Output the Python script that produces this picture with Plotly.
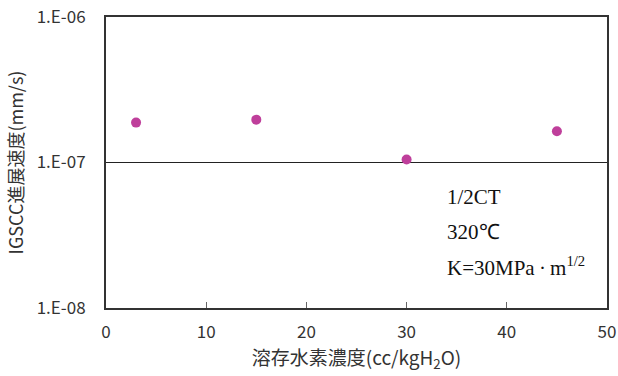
import plotly.graph_objects as go

h2_conc = [3, 15, 30, 45]
growth_rate = [1.88e-7, 1.97e-7, 1.05e-7, 1.64e-7]
y_tick_vals = [1e-8, 1e-7, 1e-6]
y_tick_text = ["1.E-08", "1.E-07", "1.E-06"]
x_tick_vals = [0, 10, 20, 30, 40, 50]
notes = ["1/2CT", "320℃", "K=30MPa\u2009·\u2009m<sup>1/2</sup>"]
note_y = [0.381, 0.261, 0.141]

fig = go.Figure()
fig.add_trace(go.Scatter(
    x=h2_conc, y=growth_rate, mode="markers",
    marker=dict(size=10, color="#BF3F9B"),
    showlegend=False,
))

gfont = "Noto Sans CJK JP"
tc = "#333333"
fig.update_layout(
    width=618, height=376,
    margin=dict(l=106, r=11, t=17, b=68),
    plot_bgcolor="white", paper_bgcolor="white",
    font=dict(family=gfont, size=17, color=tc),
    xaxis=dict(
        range=[0, 50], tickvals=x_tick_vals, ticks="inside", ticklen=6,
        tickcolor="#666666", showline=True, linecolor="#333333", linewidth=2,
        mirror=True, showgrid=False, zeroline=False, automargin=False,
        tickfont=dict(family=gfont, size=17, color=tc),
        ticklabelstandoff=8,
        title=dict(text="溶存水素濃度(cc/kgH<sub>2</sub>O)", standoff=6,
                   font=dict(family=gfont, size=19, color=tc)),
    ),
    yaxis=dict(
        type="log", range=[-8, -6], tickvals=y_tick_vals, ticktext=y_tick_text,
        ticks="", showline=True, linecolor="#333333", linewidth=2, mirror=True,
        showgrid=True, gridcolor="#222222", gridwidth=1, zeroline=False,
        automargin=False,
        tickfont=dict(family=gfont, size=17, color=tc),
        ticklabelstandoff=15,
        title=dict(text="IGSCC進展速度(mm/s)", standoff=8,
                   font=dict(family=gfont, size=18, color=tc)),
    ),
)

for t, yy in zip(notes, note_y):
    fig.add_annotation(
        x=0.677, y=yy, xref="paper", yref="paper",
        xanchor="left", yanchor="middle", showarrow=False, text=t,
        font=dict(family="Liberation Serif", size=21, color="#111111"),
    )

fig.write_html("out.html", config={"displayModeBar": False},
               post_script="document.body.style.margin='0';")
